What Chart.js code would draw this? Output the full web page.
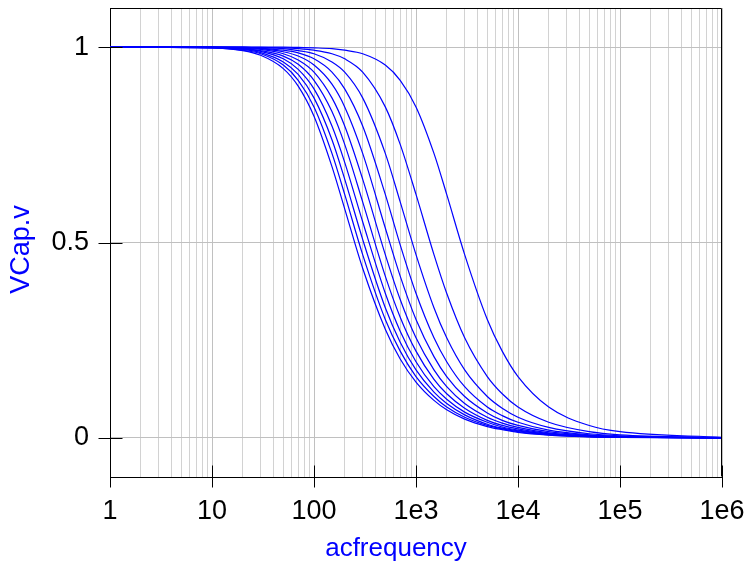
<!DOCTYPE html>
<html><head><meta charset="utf-8">
<script src="https://cdn.jsdelivr.net/npm/chart.js@4.4.1/dist/chart.umd.min.js"></script>
<style>html,body{margin:0;padding:0;background:#fff}canvas{display:block}</style>
</head><body>
<canvas id="c" width="748" height="570"></canvas>
<script>
// ---- data ----
const frequencies = [1, 10, 20, 30, 50, 70, 100, 150, 200, 300, 500, 700, 1000, 1500, 2000, 3000, 5000, 7000, 10000, 20000, 50000, 100000, 1000000];
const vcap1  = [1, 1, 1, 1, 1, 0.999, 0.998, 0.996, 0.992, 0.983, 0.954, 0.915, 0.847, 0.728, 0.623, 0.469, 0.303, 0.222, 0.157, 0.079, 0.0318, 0.0159, 0.0016];
const vcap2  = [1, 1, 1, 0.999, 0.998, 0.996, 0.992, 0.983, 0.970, 0.936, 0.847, 0.751, 0.623, 0.469, 0.370, 0.256, 0.157, 0.113, 0.079, 0.040, 0.0159, 0.0080, 0.0008];
const vcap3  = [1, 1, 0.999, 0.998, 0.996, 0.991, 0.983, 0.962, 0.936, 0.870, 0.728, 0.604, 0.469, 0.333, 0.256, 0.174, 0.106, 0.076, 0.053, 0.027, 0.0106, 0.0053, 0.0005];
const vcap4  = [1, 1, 0.999, 0.997, 0.992, 0.985, 0.970, 0.936, 0.893, 0.798, 0.623, 0.494, 0.370, 0.256, 0.195, 0.131, 0.079, 0.057, 0.040, 0.020, 0.0080, 0.0040, 0.0004];
const vcap5  = [1, 1, 0.998, 0.996, 0.988, 0.977, 0.954, 0.905, 0.847, 0.728, 0.537, 0.414, 0.303, 0.208, 0.157, 0.106, 0.064, 0.045, 0.032, 0.016, 0.0064, 0.0032, 0.0003];
const vcap6  = [1, 0.999, 0.997, 0.994, 0.983, 0.967, 0.936, 0.870, 0.798, 0.662, 0.469, 0.354, 0.256, 0.174, 0.131, 0.088, 0.053, 0.038, 0.027, 0.013, 0.0053, 0.0027, 0.0003];
const vcap7  = [1, 0.999, 0.996, 0.991, 0.977, 0.956, 0.915, 0.835, 0.751, 0.604, 0.414, 0.309, 0.222, 0.150, 0.113, 0.076, 0.045, 0.032, 0.023, 0.011, 0.0045, 0.0023, 0.0002];
const vcap8  = [1, 0.999, 0.995, 0.989, 0.970, 0.943, 0.893, 0.798, 0.705, 0.553, 0.370, 0.273, 0.195, 0.131, 0.099, 0.066, 0.040, 0.028, 0.020, 0.010, 0.0040, 0.0020, 0.0002];
const vcap9  = [1, 0.998, 0.994, 0.986, 0.962, 0.930, 0.870, 0.763, 0.662, 0.508, 0.333, 0.245, 0.174, 0.117, 0.088, 0.059, 0.035, 0.025, 0.018, 0.009, 0.0035, 0.0018, 0.0002];
const vcap10 = [1, 0.998, 0.992, 0.983, 0.954, 0.915, 0.847, 0.728, 0.623, 0.469, 0.303, 0.222, 0.157, 0.106, 0.079, 0.053, 0.032, 0.023, 0.016, 0.008, 0.0032, 0.0016, 0.0002];
const vcap11 = [1, 0.998, 0.991, 0.979, 0.945, 0.900, 0.823, 0.694, 0.586, 0.434, 0.278, 0.202, 0.143, 0.096, 0.072, 0.048, 0.029, 0.021, 0.014, 0.007, 0.0029, 0.0014, 0.0001];
const xDecades = [1, 10, 100, 1000, 10000, 100000, 1000000];
const xTickLabels = ['1', '10', '100', '1e3', '1e4', '1e5', '1e6'];
const yTickValues = [0, 0.5, 1];
const yTickLabels = ['0', '0.5', '1'];
const xTitle = 'acfrequency';
const yTitle = 'VCap.v';

// ---- build chart ----
const seriesList = [vcap1, vcap2, vcap3, vcap4, vcap5, vcap6, vcap7, vcap8, vcap9, vcap10, vcap11];
const datasets = seriesList.map((s, k) => ({
  label: 'C' + (k + 1),
  data: frequencies.map((f, i) => ({x: f, y: s[i]})),
  borderColor: '#0000ff',
  borderWidth: 1.2,
  pointRadius: 0,
  fill: false,
  cubicInterpolationMode: 'monotone'
}));

const xGridValues = [];
for (let i = 0; i < xDecades.length - 1; i++) {
  for (let m = 1; m <= 9; m++) xGridValues.push(m * xDecades[i]);
}
xGridValues.push(xDecades[xDecades.length - 1]);
const isDecade = v => xDecades.some(d => Math.abs(d - v) / d < 1e-9);

const FONT = "'Liberation Sans', Arial, sans-serif";

const frame = {
  id: 'frame',
  afterDraw(chart) {
    const {ctx, chartArea: a, scales: {x, y}} = chart;
    ctx.save();
    ctx.strokeStyle = '#000';
    ctx.lineWidth = 1;
    ctx.beginPath();
    const t = Math.round(a.top) + 0.5, r = Math.round(a.right) - 0.5;
    const b = Math.round(a.bottom) - 0.5, l = Math.round(a.left) + 0.5;
    ctx.moveTo(l, t); ctx.lineTo(r, t); ctx.lineTo(r, b);
    xDecades.forEach(v => {
      const px = Math.round(x.getPixelForValue(v)) + 0.5;
      ctx.moveTo(px, b - 11); ctx.lineTo(px, b + 11);
    });
    yTickValues.forEach(v => {
      const py = Math.round(y.getPixelForValue(v)) + 0.5;
      ctx.moveTo(l - 12, py); ctx.lineTo(l + 12, py);
    });
    ctx.stroke();
    // axis titles
    ctx.fillStyle = '#0000ff';
    ctx.font = '26px ' + FONT;
    ctx.textAlign = 'center';
    ctx.textBaseline = 'middle';
    ctx.fillText(xTitle, (a.left + a.right) / 2 - 20, a.bottom + 72);
    ctx.translate(22, (a.top + a.bottom) / 2 + 7);
    ctx.rotate(-Math.PI / 2);
    ctx.font = '27px ' + FONT;
    ctx.fillText(yTitle, 0, 0);
    ctx.restore();
  }
};

new Chart(document.getElementById('c'), {
  type: 'line',
  data: {datasets},
  plugins: [frame],
  options: {
    responsive: false,
    animation: false,
    devicePixelRatio: 1,
    layout: {padding: {left: 0, top: 8, right: 26, bottom: 0}},
    plugins: {legend: {display: false}, tooltip: {enabled: false}},
    scales: {
      x: {
        type: 'logarithmic',
        min: 1, max: 1000000,
        afterBuildTicks: s => { s.ticks = xGridValues.map(v => ({value: v})); },
        afterFit: s => { s.height = 93; s.paddingLeft = 0; s.paddingRight = 0; },
        ticks: {
          autoSkip: false, maxRotation: 0, padding: 18, color: '#000',
          font: {family: FONT, size: 27},
          callback: v => { const i = xDecades.findIndex(d => Math.abs(d - v) / d < 1e-9); return i >= 0 ? xTickLabels[i] : ''; }
        },
        grid: {
          drawTicks: false,
          color: c => (c.tick && isDecade(c.tick.value)) ? '#c0c0c0' : '#d2d2d2',
          lineWidth: 1
        },
        border: {display: true, color: '#000', width: 1},
        title: {display: false}
      },
      y: {
        type: 'linear',
        min: -0.1, max: 1.1,
        afterBuildTicks: s => { s.ticks = yTickValues.map(v => ({value: v})); },
        afterFit: s => { s.width = 110; s.paddingTop = 0; s.paddingBottom = 0; },
        ticks: {
          padding: 21, color: '#000',
          font: {family: FONT, size: 27},
          callback: v => { const i = yTickValues.indexOf(v); return i >= 0 ? yTickLabels[i] : ''; }
        },
        grid: {drawTicks: false, color: '#c0c0c0', lineWidth: 1},
        border: {display: true, color: '#000', width: 1},
        title: {display: false}
      }
    }
  }
});
</script>
</body></html>
